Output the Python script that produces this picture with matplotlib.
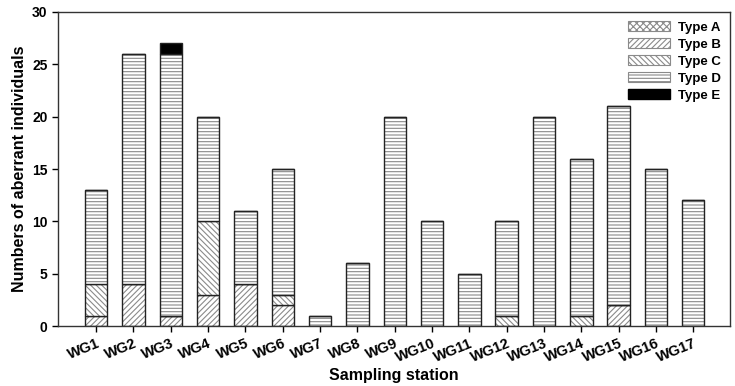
import matplotlib
matplotlib.use("Agg")
import matplotlib.pyplot as plt
import numpy as np
from matplotlib.patches import Patch

plt.rcParams['font.family'] = ['Liberation Sans', 'DejaVu Sans']
plt.rcParams['hatch.linewidth'] = 0.8

stations = ["WG1", "WG2", "WG3", "WG4", "WG5", "WG6", "WG7", "WG8", "WG9",
            "WG10", "WG11", "WG12", "WG13", "WG14", "WG15", "WG16", "WG17"]
type_a = [0, 0, 0, 0, 0, 0, 0, 0, 0, 0, 0, 0, 0, 0, 0, 0, 0]
type_b = [1, 4, 1, 3, 4, 2, 0, 0, 0, 0, 0, 0, 0, 0, 2, 0, 0]
type_c = [3, 0, 0, 7, 0, 1, 0, 0, 0, 0, 0, 1, 0, 1, 0, 0, 0]
type_d = [9, 22, 25, 10, 7, 12, 1, 6, 20, 10, 5, 9, 20, 15, 19, 15, 12]
type_e = [0, 0, 1, 0, 0, 0, 0, 0, 0, 0, 0, 0, 0, 0, 0, 0, 0]

series = [("Type A", type_a, "xxxxx", "white"),
          ("Type B", type_b, "//////", "white"),
          ("Type C", type_c, "\\\\\\\\\\\\", "white"),
          ("Type D", type_d, "-----", "white"),
          ("Type E", type_e, None, "black")]

fig = plt.figure(figsize=(7.35, 3.86), dpi=100)
ax = fig.add_axes([0.079, 0.155, 0.914, 0.814])

x = np.arange(len(stations))
w = 0.6
bottom = np.zeros(len(stations))
handles = []
for name, vals, hatch, fc in series:
    vals = np.array(vals, dtype=float)
    if hatch:
        ax.bar(x, vals, w, bottom=bottom, color=fc, edgecolor="#8a8a8a",
               hatch=hatch, linewidth=0)
        ax.bar(x, vals, w, bottom=bottom, fill=False, edgecolor="#222222",
               linewidth=1.0)
        handles.append(Patch(facecolor="white", edgecolor="#8a8a8a", hatch=hatch,
                             linewidth=0.8, label=name))
    else:
        ax.bar(x, vals, w, bottom=bottom, color=fc, edgecolor="#222222",
               linewidth=1.0)
        handles.append(Patch(facecolor="black", edgecolor="black", label=name))
    bottom += vals

ax.set_xlim(-1.02, 16.98)
ax.set_ylim(0, 30)
ax.set_yticks([0, 5, 10, 15, 20, 25, 30])
ax.set_xticks(x)
ax.set_xticklabels(stations, rotation=22, ha="right", rotation_mode="anchor",
                   fontweight="bold", fontsize=10.5)
for lab in ax.get_yticklabels():
    lab.set_fontweight("bold")
    lab.set_fontsize(10)
ax.tick_params(direction="out", length=4, width=1)
for s in ax.spines.values():
    s.set_linewidth(1.0)
    s.set_color("#333333")
ax.set_xlabel("Sampling station", fontweight="bold", fontsize=11.5, labelpad=2)
ax.set_ylabel("Numbers of aberrant individuals", fontweight="bold", fontsize=11.5)

leg = ax.legend(handles=handles, loc="upper right", frameon=False,
                prop={"weight": "bold", "size": 9.5}, handlelength=3.2,
                handleheight=0.75, labelspacing=0.35, borderaxespad=0.3,
                handletextpad=0.6)

fig.savefig("out.png", dpi=100)
